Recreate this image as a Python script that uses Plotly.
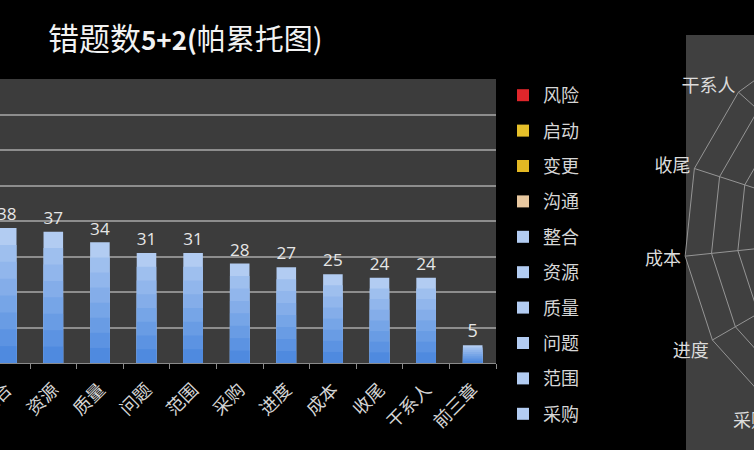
import plotly.graph_objects as go

# ---------------- data ----------------
categories = ["风险", "启动", "变更", "沟通", "整合", "资源", "质量", "问题",
              "范围", "采购", "进度", "成本", "收尾", "干系人", "前三章"]
# values of the first four categories are outside the visible crop (unknown)
counts = [None, None, None, None, 38, 37, 34, 31, 31, 28, 27, 25, 24, 24, 5]
bar_colors = ["#e0262b", "#e6c02a", "#e3b823", "#e8c8a0"] + ["#b2ccf2"] * 11
legend_items = ["风险", "启动", "变更", "沟通", "整合", "资源", "质量", "问题", "范围", "采购"]
title_main = "错题数"
title_bold = "5+2("
title_rest = "帕累托图)"

# ---------------- geometry (pixels) ----------------
W, H = 1110, 450
def px_x(p):
    return p / W
def px_y(p):
    return 1 - p / H

CJK = "Noto Sans CJK SC"

fig = go.Figure()

for cat, v, c in zip(categories, counts, bar_colors):
    fig.add_trace(go.Bar(
        x=[cat], y=[v], name=cat,
        marker=dict(color=c, line=dict(width=0)),
        width=0.42,
        text=[v] if v is not None else None,
        textposition="outside",
        textfont=dict(family="Open Sans", size=18, color="#e6e6e6"),
        cliponaxis=False,
        showlegend=cat in legend_items,
        legendgroup=cat,
        hoverinfo="x+y",
    ))

# vertical colour gradient of the blue bars (light top -> darker bottom)
top_rgb = (178, 204, 242)
bot_rgb = (72, 134, 222)
n_bands = 8
for k in range(1, n_bands):
    frac = 1 - k / n_bands
    t = frac - 0.5 / n_bands
    rgb = tuple(int(round(b + (tp - b) * t)) for tp, b in zip(top_rgb, bot_rgb))
    fig.add_trace(go.Bar(
        x=categories,
        y=[None if v is None else v * frac for v in counts],
        marker=dict(color="rgb(%d,%d,%d)" % rgb, line=dict(width=0)),
        width=0.42, showlegend=False, hoverinfo="skip",
    ))

# radar chart (mostly outside the crop)
fig.add_trace(go.Scatterpolar(
    theta=categories, r=counts, mode="lines",
    line=dict(color="#5b8fd8", width=2),
    showlegend=False, connectgaps=False,
))

fig.add_shape(type="rect", xref="paper", yref="paper",
              x0=px_x(686), x1=1, y0=0, y1=px_y(35),
              fillcolor="#404040", line=dict(width=0), layer="below")

fig.add_annotation(
    xref="paper", yref="paper", x=px_x(46), y=px_y(37),
    xanchor="left", yanchor="middle", showarrow=False,
    text=(f"<span style='font-size:31px'>{title_main}</span>"
          f"<b><span style='font-size:26px'>{title_bold}</span></b>"
          f"<span style='font-size:29px'>{title_rest}</span>"),
    font=dict(family=CJK, color="#f2f2f2"),
)

fig.update_layout(
    width=W, height=H,
    margin=dict(l=0, r=0, t=0, b=0),
    paper_bgcolor="#000000",
    plot_bgcolor="#3c3c3c",
    barmode="overlay",
    font=dict(family=CJK, color="#d9d9d9"),
    xaxis=dict(
        domain=[0, px_x(496)],
        automargin=False,
        type="category", categoryorder="array", categoryarray=categories,
        range=[3.856, 14.5],
        tickangle=-45,
        tickfont=dict(family=CJK, size=18, color="#d4d4d4"),
        ticks="outside", tickson="boundaries", ticklen=5, tickcolor="#8a8a8a",
        ticklabelstandoff=8,
        showline=True, linecolor="#8a8a8a", linewidth=1,
        showgrid=False, zeroline=False,
    ),
    yaxis=dict(
        domain=[px_y(363), px_y(79)],
        automargin=False,
        range=[0, 80], dtick=10,
        showgrid=True, gridcolor="#8d8d8d", gridwidth=2,
        showticklabels=False, zeroline=False, showline=False,
    ),
    polar=dict(
        domain=dict(x=[px_x(684), px_x(1108)], y=[px_y(446), px_y(22)]),
        bgcolor="rgba(0,0,0,0)",
        gridshape="linear",
        radialaxis=dict(range=[0, 80], dtick=10, showticklabels=False, ticks="",
                        showline=False, gridcolor="#959595", gridwidth=1),
        angularaxis=dict(type="category", categoryarray=categories,
                         rotation=90, direction="clockwise",
                         showline=True, linecolor="#959595", gridcolor="#959595",
                         ticks="", tickfont=dict(family=CJK, size=18, color="#dcdcdc")),
    ),
    legend=dict(
        x=px_x(503), y=px_y(77), xanchor="left", yanchor="top",
        bgcolor="rgba(0,0,0,0)",
        font=dict(family=CJK, size=18, color="#d6d6d6"),
        tracegroupgap=9,
    ),
)

fig.write_html(
    "out.html",
    post_script="document.documentElement.style.overflow='hidden';document.body.style.overflow='hidden';",
)
